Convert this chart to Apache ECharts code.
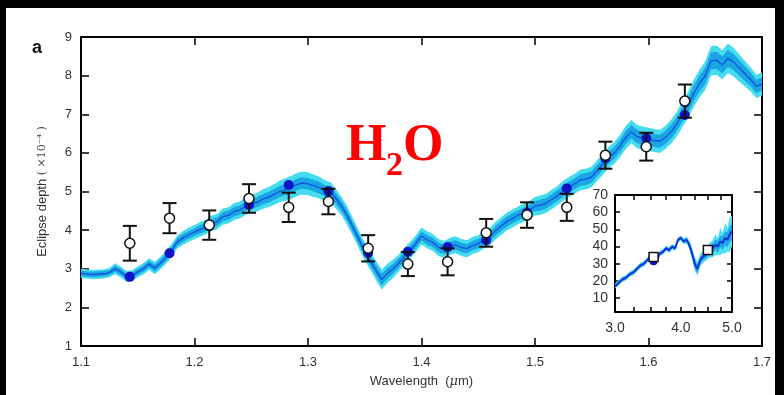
<!DOCTYPE html>
<html>
<head>
<meta charset="utf-8">
<script src="https://cdn.jsdelivr.net/npm/echarts@6/dist/echarts.min.js"></script>
<style>
html,body{margin:0;padding:0;background:#000;width:784px;height:395px;overflow:hidden;}
#chart{position:absolute;left:6px;top:8px;width:769px;height:387px;background:#fff;}
</style>
</head>
<body>
<div id="chart"></div>
<script>
// ---------- main panel data ----------
const xTicks = [1.1, 1.2, 1.3, 1.4, 1.5, 1.6, 1.7];
const yTicks = [1, 2, 3, 4, 5, 6, 7, 8, 9];

const modelWave = [
  1.100, 1.110, 1.120, 1.125, 1.130, 1.135, 1.140, 1.145, 1.150, 1.155, 1.160, 1.165, 1.170,
  1.175, 1.180, 1.185, 1.190, 1.195, 1.200, 1.205, 1.210, 1.215, 1.220, 1.225, 1.230, 1.235, 1.240, 1.245, 1.250, 1.255,
  1.260, 1.265, 1.270, 1.275, 1.280, 1.285, 1.290, 1.295, 1.300, 1.305, 1.310, 1.315, 1.320, 1.325, 1.330, 1.335,
  1.340, 1.345, 1.350, 1.355, 1.360, 1.365, 1.370, 1.375, 1.380, 1.385, 1.390, 1.395, 1.400,
  1.405, 1.410, 1.415, 1.420, 1.425, 1.430, 1.435, 1.440, 1.445, 1.450, 1.455, 1.460, 1.465, 1.470, 1.475,
  1.480, 1.485, 1.490, 1.495, 1.500, 1.505, 1.510, 1.515, 1.520, 1.525, 1.530, 1.535, 1.540, 1.545, 1.550,
  1.555, 1.560, 1.565, 1.570, 1.575, 1.580, 1.585, 1.590, 1.595, 1.600, 1.605, 1.610, 1.615, 1.620,
  1.625, 1.630, 1.635, 1.640, 1.645, 1.650, 1.655, 1.660, 1.665, 1.670, 1.675, 1.680, 1.685, 1.690, 1.695, 1.700
];
const modelDepth = [
  2.88, 2.85, 2.87, 2.90, 3.00, 2.92, 2.80, 2.82, 2.92, 3.00, 3.12, 3.02, 3.15,
  3.30, 3.48, 3.70, 3.80, 3.88, 3.95, 4.02, 4.08, 4.18, 4.22, 4.35, 4.38, 4.48, 4.52, 4.62, 4.68, 4.72,
  4.80, 4.85, 4.92, 5.00, 5.05, 5.10, 5.18, 5.22, 5.20, 5.15, 5.10, 5.02, 4.98, 4.80, 4.60, 4.35,
  4.05, 3.75, 3.45, 3.20, 2.95, 2.72, 2.88, 3.00, 3.15, 3.32, 3.48, 3.65, 3.85,
  3.75, 3.68, 3.55, 3.50, 3.58, 3.62, 3.55, 3.52, 3.60, 3.65, 3.75, 3.82, 3.98, 4.10, 4.22,
  4.30, 4.38, 4.45, 4.52, 4.62, 4.65, 4.70, 4.80, 4.90, 5.02, 5.12, 5.20, 5.30, 5.32, 5.38,
  5.55, 5.72, 5.88, 6.00, 6.18, 6.40, 6.55, 6.42, 6.38, 6.35, 6.32, 6.30, 6.40, 6.55,
  6.75, 7.00, 7.25, 7.55, 7.80, 8.00, 8.38, 8.40, 8.28, 8.45, 8.35, 8.20, 8.05, 7.90, 7.72, 7.78
];
const innerHalf = [
  0.07, 0.07, 0.07, 0.07, 0.08, 0.08, 0.08, 0.08, 0.08, 0.08, 0.09, 0.09, 0.09,
  0.10, 0.10, 0.10, 0.10, 0.10, 0.10, 0.11, 0.11, 0.11, 0.11, 0.12, 0.12, 0.12, 0.12, 0.12, 0.13, 0.13,
  0.13, 0.14, 0.14, 0.14, 0.15, 0.15, 0.15, 0.15, 0.15, 0.15, 0.15, 0.14, 0.14, 0.14, 0.13, 0.13,
  0.13, 0.13, 0.13, 0.13, 0.14, 0.15, 0.14, 0.13, 0.12, 0.12, 0.12, 0.12, 0.12,
  0.12, 0.12, 0.12, 0.12, 0.12, 0.12, 0.12, 0.12, 0.12, 0.12, 0.12, 0.12, 0.13, 0.13, 0.13,
  0.13, 0.13, 0.13, 0.13, 0.13, 0.14, 0.14, 0.14, 0.14, 0.14, 0.14, 0.14, 0.15, 0.15, 0.15,
  0.15, 0.15, 0.16, 0.16, 0.16, 0.17, 0.17, 0.17, 0.17, 0.17, 0.17, 0.17, 0.17, 0.18,
  0.18, 0.19, 0.19, 0.20, 0.21, 0.22, 0.22, 0.22, 0.22, 0.22, 0.21, 0.20, 0.19, 0.18, 0.17, 0.17
];
const outerHalf = [
  0.12, 0.12, 0.12, 0.12, 0.14, 0.14, 0.14, 0.14, 0.14, 0.15, 0.15, 0.16, 0.16,
  0.17, 0.17, 0.17, 0.18, 0.18, 0.18, 0.19, 0.19, 0.20, 0.20, 0.21, 0.21, 0.22, 0.22, 0.23, 0.23, 0.24,
  0.25, 0.26, 0.27, 0.28, 0.29, 0.30, 0.30, 0.30, 0.30, 0.29, 0.28, 0.27, 0.26, 0.25, 0.24, 0.24,
  0.23, 0.23, 0.23, 0.24, 0.25, 0.26, 0.25, 0.24, 0.22, 0.22, 0.22, 0.22, 0.22,
  0.22, 0.22, 0.22, 0.22, 0.22, 0.22, 0.22, 0.22, 0.22, 0.22, 0.22, 0.22, 0.23, 0.23, 0.23,
  0.23, 0.23, 0.24, 0.24, 0.24, 0.25, 0.25, 0.25, 0.25, 0.26, 0.26, 0.26, 0.27, 0.27, 0.27,
  0.27, 0.28, 0.28, 0.28, 0.29, 0.30, 0.30, 0.30, 0.30, 0.30, 0.30, 0.30, 0.30, 0.31,
  0.32, 0.33, 0.34, 0.35, 0.36, 0.37, 0.38, 0.38, 0.38, 0.38, 0.37, 0.35, 0.33, 0.31, 0.30, 0.30
];

// observations (open circles) and binned model (dark dots)
const obsWave  = [1.143, 1.178, 1.213, 1.248, 1.283, 1.318, 1.353, 1.388, 1.423, 1.457, 1.493, 1.528, 1.562, 1.598, 1.632];
const obsDepth = [3.66, 4.31, 4.13, 4.82, 4.59, 4.74, 3.53, 3.12, 3.18, 3.93, 4.39, 4.59, 5.94, 6.16, 7.34];
const obsErr   = [0.45, 0.39, 0.38, 0.37, 0.38, 0.33, 0.34, 0.31, 0.35, 0.36, 0.33, 0.35, 0.35, 0.36, 0.43];
const binModel = [2.79, 3.40, 4.10, 4.65, 5.17, 5.01, 3.41, 3.44, 3.56, 3.74, 4.45, 5.08, 5.86, 6.38, 6.98];

// ---------- inset data ----------
const insetXLabels = [3.0, 4.0, 5.0];
const insetXTicks = [3.0, 3.25, 3.5, 3.75, 4.0, 4.25, 4.5, 4.75, 5.0];
const insetYTicks = [10, 20, 30, 40, 50, 60, 70];
const insetWave = [
  3.00, 3.05, 3.10, 3.15, 3.20, 3.25, 3.30, 3.35, 3.40, 3.45, 3.50, 3.55, 3.60, 3.65, 3.70, 3.75, 3.80, 3.85, 3.90, 3.95, 4.00, 4.05, 4.10,
  4.15, 4.20, 4.25, 4.30, 4.35, 4.40, 4.45,
  4.50, 4.55, 4.60, 4.65, 4.70, 4.75, 4.80, 4.85, 4.90, 4.95, 5.00
];
const insetDepth = [
  17, 19, 21, 22, 24, 25, 27, 29, 30, 32, 34, 33, 32, 36, 37, 39, 38, 40, 39, 44, 45, 43, 44,
  41, 36, 30, 27, 32, 34, 35,
  37, 38, 39, 41, 40, 43, 42, 45, 44, 47, 49
];
const insetInner = [
  1, 1, 1, 1, 1, 1, 1, 1, 1, 1, 1, 1, 1, 1, 1, 1, 1, 1, 1, 1, 1, 1, 1.2,
  1.5, 2, 2.5, 2.5, 2, 2, 2,
  2.5, 2.5, 3, 3, 3.5, 3.5, 4, 4, 4.5, 4.5, 5
];
const insetOuter = [
  1.5, 1.5, 1.5, 1.5, 1.5, 1.5, 1.5, 1.5, 1.5, 1.5, 1.5, 1.5, 1.5, 1.5, 1.5, 1.5, 1.5, 1.5, 1.5, 1.5, 1.5, 1.6, 2,
  2.5, 3.5, 4, 4, 3.5, 3.5, 3.5,
  4, 4.5, 5, 6, 5, 8, 6, 9, 7, 10, 9
];
const insetObsWave = [3.55, 4.50];
const insetObsDepth = [34, 38];
const insetBin = [31.5, 37.5];

// ---------- build ----------
const L = Math.log10;

// band polygon drawn through the axis scales (api.coord)
function bandSeries(xs, center, half, xi, yi, color, z) {
  const data = xs.map((x, i) => [x, center[i] - half[i], center[i] + half[i]]);
  return {
    type: 'custom', xAxisIndex: xi, yAxisIndex: yi, z: z, silent: true,
    data: data, encode: {x: 0, y: [1, 2]}, clip: true,
    renderItem: function (params, api) {
      if (params.dataIndex !== 0) return null;
      const up = [], lo = [];
      for (let i = 0; i < data.length; i++) {
        up.push(api.coord([data[i][0], data[i][2]]));
        lo.push(api.coord([data[i][0], data[i][1]]));
      }
      const pts = up.concat(lo.reverse());
      return {type: 'polygon', shape: {points: pts}, style: {fill: color}};
    }
  };
}

const mainModel = modelWave.map((w, i) => [w, modelDepth[i]]);
const obsData = obsWave.map((w, i) => [w, obsDepth[i], obsErr[i]]);
const binData = obsWave.map((w, i) => [w, binModel[i]]);
const insetX = insetWave.map(L);
const insetModel = insetWave.map((w, i) => [L(w), insetDepth[i]]);
const insetObs = insetObsWave.map((w, i) => [L(w), insetObsDepth[i]]);
const insetBinData = insetObsWave.map((w, i) => [L(w), insetBin[i]]);

const axisLineStyle = {color: '#000', width: 2};
const tickStyle = {color: '#000', width: 1.5};
const labelFont = {color: '#333', fontSize: 13, fontFamily: 'Liberation Sans, Arial, sans-serif'};

const grid0 = {left: 75, top: 29, width: 681, height: 309};
const grid1 = {left: 609, top: 187, width: 117, height: 117};

const option = {
  backgroundColor: '#fff',
  animation: false,
  grid: [
    Object.assign({containLabel: false, show: false}, grid0),
    Object.assign({containLabel: false, show: true, backgroundColor: '#fff', borderWidth: 0, z: 5}, grid1)
  ],
  xAxis: [
    {gridIndex: 0, type: 'value', min: 1.1, max: 1.7, position: 'bottom',
      axisLine: {lineStyle: axisLineStyle},
      axisTick: {inside: true, length: 8, lineStyle: tickStyle, customValues: xTicks},
      axisLabel: Object.assign({margin: 10, customValues: xTicks, formatter: v => (+v).toFixed(1)}, labelFont),
      splitLine: {show: false},
      name: 'Wavelength  ({i|μ}m)', nameLocation: 'middle', nameGap: 29,
      nameTextStyle: {color: '#333', fontSize: 13, fontFamily: 'Liberation Sans, Arial, sans-serif',
        rich: {i: {fontStyle: 'italic', fontFamily: 'DejaVu Serif, serif', fontSize: 13, color: '#333'}}}},
    {gridIndex: 0, type: 'value', min: 1.1, max: 1.7, position: 'top',
      axisLine: {lineStyle: axisLineStyle},
      axisTick: {inside: true, length: 8, lineStyle: tickStyle, customValues: xTicks},
      axisLabel: {show: false}, splitLine: {show: false}},
    {gridIndex: 1, type: 'value', min: L(3), max: L(5), position: 'bottom', z: 6,
      axisLine: {lineStyle: axisLineStyle},
      axisTick: {inside: true, length: 5, lineStyle: tickStyle, customValues: insetXTicks.map(L)},
      axisLabel: Object.assign({margin: 9, customValues: insetXLabels.map(L), formatter: v => Math.pow(10, v).toFixed(1)}, labelFont, {fontSize: 14}),
      splitLine: {show: false}},
    {gridIndex: 1, type: 'value', min: L(3), max: L(5), position: 'top', z: 6,
      axisLine: {lineStyle: axisLineStyle},
      axisTick: {inside: true, length: 5, lineStyle: tickStyle, customValues: insetXTicks.map(L)},
      axisLabel: {show: false}, splitLine: {show: false}}
  ],
  yAxis: [
    {gridIndex: 0, type: 'value', min: 1, max: 9, interval: 1, position: 'left',
      axisLine: {lineStyle: axisLineStyle},
      axisTick: {inside: true, length: 8, lineStyle: tickStyle},
      axisLabel: Object.assign({margin: 9}, labelFont),
      splitLine: {show: false},
      name: 'Eclipse depth {b|( ×10⁻⁴ )}', nameLocation: 'middle', nameGap: 32, nameRotate: 90,
      nameTextStyle: {color: '#333', fontSize: 13, fontFamily: 'Liberation Sans, Arial, sans-serif',
        rich: {b: {fontFamily: 'DejaVu Serif, serif', fontSize: 11, color: '#444'}}}},
    {gridIndex: 0, type: 'value', min: 1, max: 9, interval: 1, position: 'right',
      axisLine: {lineStyle: axisLineStyle},
      axisTick: {inside: true, length: 8, lineStyle: tickStyle},
      axisLabel: {show: false}, splitLine: {show: false}},
    {gridIndex: 1, type: 'value', min: 2, max: 70, position: 'left', z: 6,
      axisLine: {lineStyle: axisLineStyle},
      axisTick: {inside: true, length: 5, lineStyle: tickStyle, customValues: insetYTicks},
      axisLabel: Object.assign({margin: 7, customValues: insetYTicks}, labelFont, {fontSize: 14}),
      splitLine: {show: false}},
    {gridIndex: 1, type: 'value', min: 2, max: 70, position: 'right', z: 6,
      axisLine: {lineStyle: axisLineStyle},
      axisTick: {inside: true, length: 5, lineStyle: tickStyle, customValues: insetYTicks},
      axisLabel: {show: false}, splitLine: {show: false}}
  ],
  graphic: [
    {type: 'text', x: 31, y: 40, z: 10, style: {text: 'a', fill: '#111', font: 'bold 18px "Liberation Sans", Arial, sans-serif', textAlign: 'center', textVerticalAlign: 'middle'}},
    {type: 'text', x: 340, y: 139, z: 10, style: {text: 'H', fill: '#ff0000', font: 'bold 52px "Liberation Serif", "Times New Roman", serif', textAlign: 'left', textVerticalAlign: 'middle'}},
    {type: 'text', x: 380, y: 158, z: 10, style: {text: '2', fill: '#ff0000', font: 'bold 34px "Liberation Serif", "Times New Roman", serif', textAlign: 'left', textVerticalAlign: 'middle'}},
    {type: 'text', x: 397, y: 139, z: 10, style: {text: 'O', fill: '#ff0000', font: 'bold 52px "Liberation Serif", "Times New Roman", serif', textAlign: 'left', textVerticalAlign: 'middle'}}
  ],
  series: [
    bandSeries(modelWave, modelDepth, outerHalf, 0, 0, '#45dcf0', 1),
    bandSeries(modelWave, modelDepth, innerHalf, 0, 0, '#1aa6e2', 2),
    {type: 'line', xAxisIndex: 0, yAxisIndex: 0, data: mainModel, symbol: 'none', z: 3,
      lineStyle: {color: '#1352e6', width: 1.3}},
    {type: 'scatter', xAxisIndex: 0, yAxisIndex: 0, data: binData, symbolSize: 10, z: 4,
      itemStyle: {color: '#0c12c6', opacity: 1}},
    {type: 'custom', xAxisIndex: 0, yAxisIndex: 0, data: obsData, z: 5,
      encode: {x: 0, y: 1},
      renderItem: function (params, api) {
        const x = api.value(0), y = api.value(1), e = api.value(2);
        const top = api.coord([x, y + e]);
        const bot = api.coord([x, y - e]);
        const w = 7;
        const st = {stroke: '#111', lineWidth: 2};
        return {type: 'group', children: [
          {type: 'line', shape: {x1: top[0], y1: top[1], x2: bot[0], y2: bot[1]}, style: st},
          {type: 'line', shape: {x1: top[0] - w, y1: top[1], x2: top[0] + w, y2: top[1]}, style: st},
          {type: 'line', shape: {x1: bot[0] - w, y1: bot[1], x2: bot[0] + w, y2: bot[1]}, style: st}
        ]};
      }},
    {type: 'scatter', xAxisIndex: 0, yAxisIndex: 0, data: obsData.map(d => [d[0], d[1]]), symbolSize: 10, z: 6,
      itemStyle: {color: '#fff', borderColor: '#111', borderWidth: 1.5, opacity: 1}},
    bandSeries(insetX, insetDepth, insetOuter, 2, 2, '#4fe0f2', 7),
    bandSeries(insetX, insetDepth, insetInner, 2, 2, '#22a8e6', 7),
    {type: 'line', xAxisIndex: 2, yAxisIndex: 2, data: insetModel, symbol: 'none', z: 8,
      lineStyle: {color: '#1236dc', width: 2}},
    {type: 'scatter', xAxisIndex: 2, yAxisIndex: 2, data: insetBinData, symbolSize: 8, z: 8,
      itemStyle: {color: '#0c12c6', opacity: 1}},
    {type: 'scatter', xAxisIndex: 2, yAxisIndex: 2, data: insetObs, symbol: 'rect', symbolSize: 9, z: 9,
      itemStyle: {color: '#fff', borderColor: '#111', borderWidth: 1.5, opacity: 1}}
  ]
};

const chart = echarts.init(document.getElementById('chart'), null, {renderer: 'canvas'});
chart.setOption(option);
</script>
</body>
</html>
